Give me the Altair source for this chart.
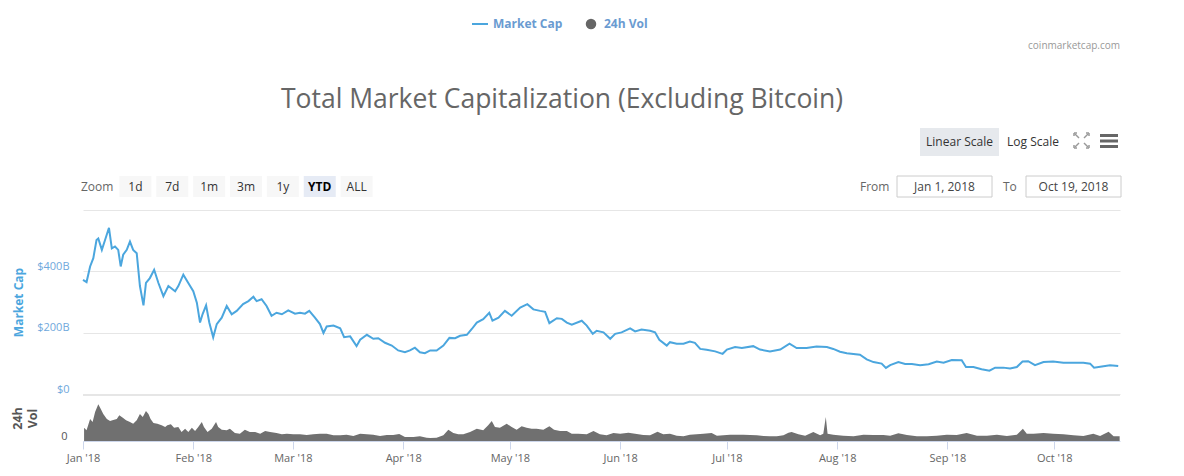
import altair as alt
import pandas as pd

# ---------------- data ----------------
# Market cap excluding bitcoin, in $B; x as days since 2018-01-01
mcap_day = [0.0, 1.0, 2.0, 2.9, 3.8, 4.3, 5.3, 6.2, 7.3, 8.1, 9.0, 9.9, 10.6, 11.3, 12.3,
            13.2, 14.1, 15.1, 16.0, 17.0, 17.7, 18.8, 20.0, 21.2, 22.6, 24.0, 25.9, 26.8,
            28.2, 29.6, 31.0, 32.0, 32.9, 33.6, 34.6, 35.5, 36.6, 37.6, 39.0, 40.4, 41.8,
            43.2, 45.0, 46.5, 47.9, 48.8, 50.2, 51.6, 53.0, 54.4, 55.9, 57.7, 59.6, 61.0,
            62.4, 63.6, 65.2, 66.6, 67.6, 68.5, 70.4, 72.3, 73.4, 75.1, 76.9, 77.9, 79.8,
            81.6, 83.0, 84.9, 86.8, 88.6, 90.5, 91.9, 93.3, 94.7, 96.1, 97.6, 99.4, 101.3,
            103.0, 104.6, 106.0, 107.9, 109.3, 110.7, 112.5, 114.2, 115.1, 116.8, 118.6,
            120.5, 122.9, 124.9, 126.6, 128.5, 129.9, 131.1, 133.2, 134.6, 136.0, 137.4,
            140.2, 141.6, 143.3, 144.4, 146.3, 148.2, 149.6, 151.4, 153.8, 155.2, 157.0,
            159.4, 160.8, 162.0, 164.1, 165.0, 166.9, 168.8, 170.6, 172.0, 173.5, 175.3,
            177.7, 179.8, 181.0, 183.3, 185.2, 188.4, 190.3, 193.1, 196.0, 198.6, 200.6,
            203.4, 206.2, 209.1, 210.9, 212.8, 214.7, 218.4, 220.3, 222.2, 224.5, 225.7,
            226.9, 229.2, 231.1, 233.0, 235.3, 237.7, 240.0, 241.9, 244.2, 247.0, 248.2,
            250.3, 252.6, 254.8, 256.4, 258.7, 260.6, 262.5, 264.1, 265.7, 267.6, 270.0,
            272.7, 275.6, 278.4, 281.2, 283.1, 284.2, 286.4, 288.7, 291.0]
mcap_bn = [372, 365, 416, 443, 502, 507, 470, 502, 542, 475, 481, 470, 416, 454, 470,
           497, 470, 459, 352, 289, 362, 378, 405, 362, 319, 352, 335, 352,
           389, 362, 335, 298, 233, 260, 289, 233, 185, 228, 249, 287, 260,
           271, 293, 303, 317, 303, 309, 287, 255, 265, 260, 273, 262, 265,
           262, 271, 249, 228, 199, 220, 223, 214, 185, 188, 156, 177, 193,
           180, 182, 167, 158, 142, 136, 142, 151, 136, 133, 142, 142, 158,
           183, 182, 190, 193, 212, 233, 244, 265, 239, 249, 271,
           255, 282, 293, 276, 271, 268, 231, 247, 245, 233, 226,
           239, 223, 196, 206, 201, 180, 196, 201, 214, 204, 210,
           206, 201, 177, 158, 169, 164, 164, 171, 167, 147, 144,
           139, 131, 145, 153, 150, 156, 145, 139, 145, 164, 150,
           150, 155, 153, 147, 138, 133, 128, 113, 104, 99, 85,
           94, 104, 98, 98, 94, 97, 106, 102, 111, 110, 88,
           88, 81, 76, 86, 86, 83, 88, 106, 107, 94, 104,
           106, 102, 102, 102, 99, 86, 90, 94, 91]

# 24h volume, in $B; x as days since 2018-01-01
vol_day = [0.3, 1.0, 2.0, 2.7, 3.4, 4.3, 5.0, 5.7, 6.7, 7.6, 8.5, 9.5, 10.2, 11.2, 12.1,
           13.2, 14.1, 15.1, 16.0, 16.8, 17.7, 18.4, 19.0, 19.8, 20.9, 22.1, 23.1, 23.7,
           24.7, 25.6, 26.8, 27.7, 28.7, 29.6, 30.6, 31.5, 32.4, 33.4, 34.0, 35.0, 36.2,
           37.4, 38.0, 39.0, 40.4, 41.3, 42.7, 44.1, 45.5, 46.9, 48.4, 49.8, 51.2, 52.6,
           54.4, 55.9, 57.3, 59.1, 61.0, 62.9, 64.7, 66.6, 68.5, 70.4, 72.3, 74.1, 76.0,
           77.9, 79.8, 81.6, 83.5, 85.4, 87.2, 88.9, 90.5, 92.9, 94.7, 96.6, 97.6, 99.4,
           101.3, 102.7, 104.1, 105.5, 106.9, 108.8, 110.7, 112.5, 113.9, 114.9, 115.8,
           117.2, 119.1, 120.5, 121.9, 123.3, 124.7, 126.1, 127.5, 129.4, 131.1, 132.4,
           134.1, 136.0, 137.4, 139.2, 141.6, 143.5, 145.3, 147.2, 149.1, 151.0, 153.3,
           155.2, 157.5, 159.4, 161.5, 163.1, 165.0, 166.9, 168.8, 170.6, 172.5, 174.4,
           176.7, 178.2, 180.0, 181.9, 183.8, 185.6, 187.5, 189.4, 191.3, 193.1, 195.0,
           196.9, 198.3, 199.2, 201.1, 203.0, 205.3, 207.2, 208.1, 208.8, 209.3, 210.9,
           213.7, 216.6, 219.4, 222.2, 225.0, 226.9, 229.2, 231.6, 234.4, 237.2, 240.0,
           242.8, 245.6, 248.4, 251.3, 254.1, 256.9, 259.7, 262.5, 264.2, 265.3, 267.2,
           270.0, 272.7, 275.6, 278.4, 281.2, 284.0, 285.9, 288.3, 289.7, 291.4]
vol_bn = [13.3, 10.7, 22, 19, 29, 36.7, 32, 27, 22, 20, 21, 22, 25.7, 23.3, 20.7,
          19, 17.3, 20.7, 27, 24, 30, 27, 22, 18, 17.3, 15.7, 14, 15.7,
          16.7, 13.3, 14, 9, 12.3, 9, 13.3, 10, 14, 19, 14, 9, 12.3,
          19, 14, 11.3, 10.7, 12.3, 8, 7.3, 11.3, 9, 9, 7.3, 10, 9,
          8, 6.7, 7.3, 6.7, 6.7, 6, 6.7, 7.3, 7.3, 5.7, 5.7, 6.3, 5,
          7.3, 6.7, 6.3, 5, 6, 6, 7, 4, 4, 4.7, 3.3, 3, 3.3,
          5.7, 11.3, 8, 6.7, 6.7, 9, 12.3, 10.7, 15.7, 20, 14,
          13.3, 17.3, 14, 11.3, 14.7, 13.3, 12.3, 12.3, 11.3, 14.7, 11.3,
          10, 10, 7.3, 7.3, 6.7, 10, 6.7, 5.7, 8, 7.3, 8.3,
          7.3, 6, 5.7, 9.3, 6.7, 7.3, 5.3, 4.7, 6.3, 6.7, 7.3,
          8, 5.3, 5.7, 6.3, 6.3, 6.3, 6, 5.7, 5, 4.7, 4.7,
          5.7, 8.3, 9, 6.7, 5.3, 9, 5.7, 7.3, 24, 7.3, 6.3,
          5.3, 4.7, 6.3, 6, 6, 5.3, 7.7, 6, 4.7, 4.7, 5.3,
          6.3, 6, 8, 5.3, 5.3, 6.3, 5, 6.3, 12.3, 7.3, 7.3,
          8, 7.3, 6.7, 5.7, 5, 7.3, 5, 9.3, 4.7, 4.7]

cap_ticks = [0, 200, 400, 600]
vol_ticks = [0]
month_starts = list(range(1, 11))
zoom_labels = ["1d", "7d", "1m", "3m", "1y", "YTD", "ALL"]
title_text = "Total Market Capitalization (Excluding Bitcoin)"
from_text = "Jan 1, 2018"
to_text = "Oct 19, 2018"

# ---------------- build tables ----------------
start = pd.Timestamp("2018-01-01")
cap_df = pd.DataFrame({
    "date": (start + pd.to_timedelta(mcap_day, unit="D")).strftime("%Y-%m-%dT%H:%M:%S"),
    "cap": mcap_bn,
})
vol_df = pd.DataFrame({
    "date": (start + pd.to_timedelta(vol_day, unit="D")).strftime("%Y-%m-%dT%H:%M:%S"),
    "vol": vol_bn,
})
one = pd.DataFrame({"k": [0]})

W, H = 1037, 231
MAIN_BOTTOM = 184
VOL_TOP = 186
FONT = "Open Sans"
BLUE = "#4ba6de"
LEG_BLUE = "#6a9bd1"

x_enc = alt.X(
    "date:T", title=None,
    scale=alt.Scale(domain=[alt.DateTime(year=2018, month=1, date=1),
                            alt.DateTime(year=2018, month=10, date=19, hours=12)]),
    axis=alt.Axis(values=[alt.DateTime(year=2018, month=m, date=1) for m in month_starts],
                  format="%b '%y", labelFlush=False, labelOverlap=False,
                  labelColor="#666666", labelFontSize=11, labelFont=FONT,
                  tickColor="#ccd6eb", tickSize=8, domainColor="#ccd6eb",
                  labelPadding=3, grid=False),
)

line = alt.Chart(cap_df).mark_line(color=BLUE, strokeWidth=2).encode(
    x=x_enc,
    y=alt.Y("cap:Q",
            scale=alt.Scale(domain=[0, 600], range=[MAIN_BOTTOM, 0]),
            axis=alt.Axis(orient="left", values=cap_ticks,
                          labelExpr="datum.value == 0 ? '$0' : (datum.value >= 600 ? '' : '$' + datum.value + 'B')",
                          grid=True, gridColor="#e6e6e6", domain=False, ticks=False,
                          labelColor="#6fa8dc", labelFont=FONT, labelFontSize=11,
                          labelBaseline="bottom", labelPadding=14,
                          title="Market Cap", titleColor=BLUE, titleFont=FONT,
                          titleFontSize=12, titleFontWeight="bold", titleAngle=270,
                          titleX=-65, titleY=92, titleBaseline="middle", titleAlign="center")),
)

vol = alt.Chart(vol_df).mark_area(color="#707070", opacity=1).encode(
    x=x_enc,
    y=alt.Y("vol:Q",
            scale=alt.Scale(domain=[0, 45], range=[H, VOL_TOP]),
            axis=alt.Axis(orient="left", values=vol_ticks, grid=False, domain=False, ticks=False,
                          labelColor="#555555", labelFont=FONT, labelFontSize=11,
                          labelBaseline="bottom", labelPadding=16,
                          title=["24h", "Vol"], titleColor="#555555", titleFont=FONT,
                          titleFontSize=12.5, titleFontWeight="bold", titleAngle=270,
                          titleX=-66, titleY=208, titleBaseline="middle", titleAlign="center",
                          titleLineHeight=15)),
)


def txt(s, x, y, size=12, color="#333333", weight="normal", align="left"):
    return alt.Chart(one).mark_text(text=s, align=align, baseline="middle", fontSize=size,
                                    color=color, fontWeight=weight, font=FONT).encode(
        x=alt.value(x), y=alt.value(y))


def box(x1, x2, y1, y2, fill, stroke=None):
    kw = dict(fill=fill)
    if stroke:
        kw.update(stroke=stroke, strokeWidth=1)
    return alt.Chart(one).mark_rect(**kw).encode(
        x=alt.value(x1), x2=alt.value(x2), y=alt.value(y1), y2=alt.value(y2))


def seg(x1, y1, x2, y2, color, width):
    return alt.Chart(one).mark_rule(color=color, strokeWidth=width).encode(
        x=alt.value(x1), y=alt.value(y1), x2=alt.value(x2), y2=alt.value(y2))


decor = []
# separator between panels
decor.append(seg(0, MAIN_BOTTOM + 1, W, MAIN_BOTTOM + 1, "#e6e6e6", 2))
# legend
decor.append(seg(389, -186, 405, -186, BLUE, 2))
decor.append(txt("Market Cap", 410, -186, 12, LEG_BLUE, "bold"))
decor.append(alt.Chart(one).mark_point(filled=True, shape="circle", size=110, color="#666666",
                                       opacity=1).encode(x=alt.value(508), y=alt.value(-186)))
decor.append(txt("24h Vol", 521, -186, 12, LEG_BLUE, "bold"))
# credit
decor.append(txt("coinmarketcap.com", W, -164, 10, "#999999", align="right"))
# title
decor.append(txt(title_text, 479, -110, 26.5, "#666666", align="center"))
# scale buttons
decor.append(box(837, 916, -82, -54, "#e6e9ed"))
decor.append(txt("Linear Scale", 876.5, -68, 12, "#333333", align="center"))
decor.append(txt("Log Scale", 950, -68, 12, "#333333", align="center"))
# fullscreen icon
cx0, cx1, cy0, cy1, d, a = 991, 1006, -77, -62, 5, 3
ic = "#999999"
for sx, sy, px, py in [(cx0, cy0, 1, 1), (cx1, cy0, -1, 1), (cx0, cy1, 1, -1), (cx1, cy1, -1, -1)]:
    decor.append(seg(sx + px, sy + py, sx + px * d, sy + py * d, ic, 1.5))
    decor.append(seg(sx, sy, sx + px * a, sy, ic, 1.5))
    decor.append(seg(sx, sy, sx, sy + py * a, ic, 1.5))
# menu icon
for yy in (-74.5, -69, -63.5):
    decor.append(seg(1017, yy, 1035, yy, "#666666", 3))
# zoom row
decor.append(txt("Zoom", -2, -23.5, 12, "#666666"))
for i, lab in enumerate(zoom_labels):
    left = 36.4 + i * 36.87
    sel = lab == "YTD"
    decor.append(box(left, left + 32, -34, -13, "#e6ebf5" if sel else "#f7f7f7"))
    decor.append(txt(lab, left + 16, -23.5, 12, "#000000" if sel else "#333333",
                     "bold" if sel else "normal", align="center"))
decor.append(txt("From", 777, -23.5, 12, "#666666"))
decor.append(box(814, 909, -34, -13, "#ffffff", "#cccccc"))
decor.append(txt(from_text, 861.5, -23.5, 12, "#444444", align="center"))
decor.append(txt("To", 920, -23.5, 12, "#666666"))
decor.append(box(943, 1038, -34, -13, "#ffffff", "#cccccc"))
decor.append(txt(to_text, 990.5, -23.5, 12, "#444444", align="center"))

chart = alt.layer(vol, line, *decor).resolve_scale(y="independent").properties(
    width=W, height=H,
    padding={"left": 75, "top": 202, "right": 56, "bottom": 27},
    autosize=alt.AutoSizeParams(type="none"),
    background="white",
).configure_view(strokeWidth=0)

chart.save("out.html", embed_options={"renderer": "svg", "actions": False})
